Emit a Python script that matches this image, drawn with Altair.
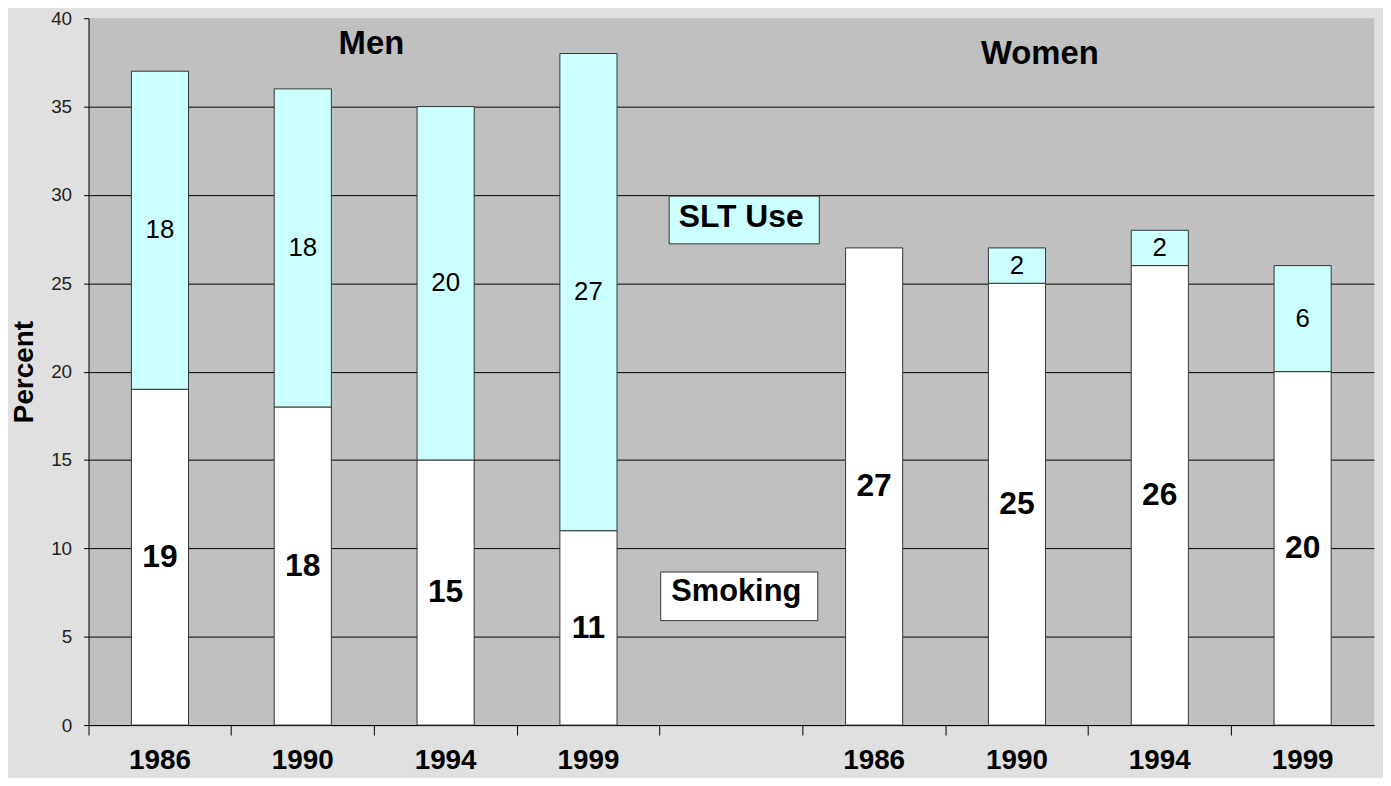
import altair as alt
import pandas as pd

# ---- data ----
slots = ["Men 1986", "Men 1990", "Men 1994", "Men 1999", "gap",
         "Women 1986", "Women 1990", "Women 1994", "Women 1999"]
bar_slots = ["Men 1986", "Men 1990", "Men 1994", "Men 1999",
             "Women 1986", "Women 1990", "Women 1994", "Women 1999"]
smoking = [19, 18, 15, 11, 27, 25, 26, 20]
slt_use = [18, 18, 20, 27, 0, 2, 2, 6]

group_titles = ["Men", "Women"]
group_title_slot = ["Men 1990", "Women 1990"]
group_title_y = [38.55, 37.95]

note_labels = ["SLT Use", "Smoking"]
note_y = [28.75, 7.5]
note_box_top = [29.93, 8.66]
note_box_bottom = [27.23, 5.91]

FONT = "Liberation Sans"
SMOKE_COLOR = "#ffffff"
SLT_COLOR = "#ccffff"

rows = []
for s, sm, sl in zip(bar_slots, smoking, slt_use):
    rows.append(dict(slot=s, series="Smoking", y0=0, y1=sm, mid=sm / 2, value=sm))
    rows.append(dict(slot=s, series="SLT Use", y0=sm, y1=sm + sl, mid=sm + sl / 2, value=sl))
df = pd.DataFrame(rows)
df = df[df["value"] > 0]

titles_df = pd.DataFrame(dict(slot=group_title_slot, y=group_title_y, label=group_titles))
notes_df = pd.DataFrame(dict(slot=["gap", "gap"], y=note_y, top=note_box_top,
                             bottom=note_box_bottom, label=note_labels))

x_scale = alt.Scale(domain=slots, paddingInner=0, paddingOuter=0)
y_scale = alt.Scale(domain=[0, 40])
color_scale = alt.Scale(domain=["Smoking", "SLT Use"], range=[SMOKE_COLOR, SLT_COLOR])

x_axis = alt.Axis(
    title=None, bandPosition=0, labelAngle=0,
    labelExpr="indexof(datum.value, ' ') > 0 ? split(datum.value, ' ')[1] : ''",
    labelFont=FONT, labelFontWeight="bold", labelFontSize=28, labelColor="black",
    labelPadding=12, tickSize=10, tickColor="black", domainColor="black",
    grid=False,
)
y_axis = alt.Axis(
    title="Percent", values=[0, 5, 10, 15, 20, 25, 30, 35, 40],
    titleFont=FONT, titleFontWeight="bold", titleFontSize=28, titleColor="black",
    titlePadding=12,
    labelFont=FONT, labelFontSize=19, labelColor="#222222", labelPadding=12,
    tickSize=5, tickColor="black", domainColor="black",
    grid=True, gridColor="black",
    gridOpacity={"condition": {"test": "datum.value >= 40", "value": 0}, "value": 1},
)

x_enc = alt.X("slot:N", scale=x_scale, axis=x_axis, sort=slots)

bars = alt.Chart(df).mark_bar(
    width=alt.RelativeBandSize(0.4), stroke="#333333", strokeWidth=1
).encode(
    x=x_enc,
    y=alt.Y("y0:Q", scale=y_scale, axis=y_axis),
    y2="y1:Q",
    color=alt.Color("series:N", scale=color_scale, legend=None),
)

smoke_text = alt.Chart(df).transform_filter(
    alt.datum.series == "Smoking"
).mark_text(font=FONT, fontSize=32, fontWeight="bold", color="black", baseline="middle").encode(
    x=alt.X("slot:N", scale=x_scale, sort=slots),
    y=alt.Y("mid:Q", scale=y_scale),
    text="value:Q",
)

slt_text = alt.Chart(df).transform_filter(
    alt.datum.series == "SLT Use"
).mark_text(font=FONT, fontSize=26, color="black", baseline="middle").encode(
    x=alt.X("slot:N", scale=x_scale, sort=slots),
    y=alt.Y("mid:Q", scale=y_scale),
    text="value:Q",
)

men_title = alt.Chart(titles_df[titles_df.label == "Men"]).mark_text(
    font=FONT, fontSize=33, fontWeight="bold", color="black", baseline="middle", dx=69
).encode(x=alt.X("slot:N", scale=x_scale, sort=slots), y=alt.Y("y:Q", scale=y_scale), text="label:N")

women_title = alt.Chart(titles_df[titles_df.label == "Women"]).mark_text(
    font=FONT, fontSize=33, fontWeight="bold", color="black", baseline="middle", dx=23
).encode(x=alt.X("slot:N", scale=x_scale, sort=slots), y=alt.Y("y:Q", scale=y_scale), text="label:N")

slt_box = alt.Chart(notes_df[notes_df.label == "SLT Use"]).mark_bar(
    width=151, xOffset=13, fill=SLT_COLOR, stroke="#333333", strokeWidth=1
).encode(x=alt.X("slot:N", scale=x_scale, sort=slots), y=alt.Y("top:Q", scale=y_scale), y2="bottom:Q")

smoke_box = alt.Chart(notes_df[notes_df.label == "Smoking"]).mark_bar(
    width=158, xOffset=8, fill=SMOKE_COLOR, stroke="#333333", strokeWidth=1
).encode(x=alt.X("slot:N", scale=x_scale, sort=slots), y=alt.Y("top:Q", scale=y_scale), y2="bottom:Q")

slt_note = alt.Chart(notes_df[notes_df.label == "SLT Use"]).mark_text(
    font=FONT, fontSize=32, fontWeight="bold", color="black", baseline="middle", dx=10
).encode(x=alt.X("slot:N", scale=x_scale, sort=slots), y=alt.Y("y:Q", scale=y_scale), text="label:N")

smoke_note = alt.Chart(notes_df[notes_df.label == "Smoking"]).mark_text(
    font=FONT, fontSize=31, fontWeight="bold", color="black", baseline="middle", dx=5
).encode(x=alt.X("slot:N", scale=x_scale, sort=slots), y=alt.Y("y:Q", scale=y_scale), text="label:N")

chart = alt.layer(
    bars, smoke_text, slt_text, men_title, women_title,
    slt_box, smoke_box, slt_note, smoke_note
).properties(
    width=1293, height=711,
    autosize=alt.AutoSizeParams(type="none"),
    padding={"left": 81, "top": 8, "right": 9, "bottom": 51},
    background="#e0e0e0",
).configure_view(fill="#c0c0c0", stroke=None)

chart.save("out.html", embed_options={"renderer": "svg", "actions": False})
